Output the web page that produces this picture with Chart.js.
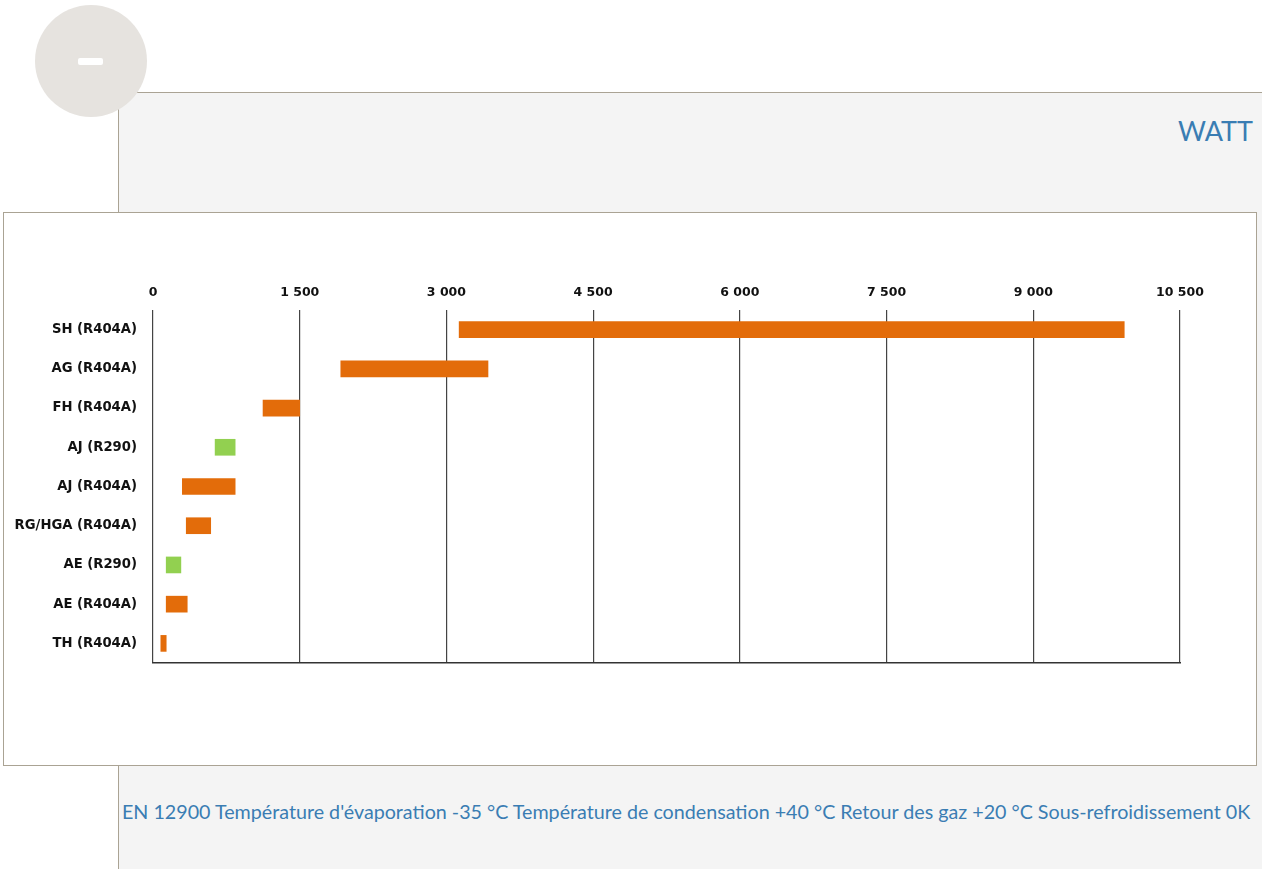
<!DOCTYPE html>
<html>
<head>
<meta charset="utf-8">
<script src="https://cdn.jsdelivr.net/npm/chart.js@4.4.1/dist/chart.umd.min.js"></script>
<style>
  body { margin: 0; width: 1262px; height: 869px; overflow: hidden; background: #fff; position: relative; font-family: Lato, "Open Sans", sans-serif; }
  .panel { position: absolute; left: 118px; top: 92px; width: 1200px; height: 800px; background: #f4f4f4; border-left: 1px solid #aaa394; border-top: 1px solid #aaa394; }
  .circle { position: absolute; left: 35px; top: 5px; width: 112px; height: 112px; border-radius: 50%; background: #e6e3df; }
  .minus { position: absolute; left: 78px; top: 58px; width: 25px; height: 7px; border-radius: 2px; background: #fff; }
  .unit { position: absolute; right: 9px; top: 114px; font-size: 27px; color: #3a7db3; }
  .box { position: absolute; left: 3px; top: 212px; width: 1252px; height: 552px; background: #fff; border: 1px solid #aaa394; }
  .note { position: absolute; left: 122px; top: 800px; font-size: 19.7px; color: #3a7db3; white-space: nowrap; }
</style>
</head>
<body>
<div class="panel"></div>
<div class="circle"></div>
<div class="minus"></div>
<div class="unit">WATT</div>
<div class="box"><canvas id="myChart" width="1252" height="552"></canvas></div>
<div class="note">EN 12900 Température d'évaporation -35 °C Température de condensation +40 °C Retour des gaz +20 °C Sous-refroidissement 0K</div>
<script>
// data
let labels = ['SH (R404A)', 'AG (R404A)', 'FH (R404A)', 'AJ (R290)', 'AJ (R404A)', 'RG/HGA (R404A)', 'AE (R290)', 'AE (R404A)', 'TH (R404A)'];
let minWatt = [3130, 1920, 1125, 635, 300, 340, 135, 135, 80];
let maxWatt = [9930, 3425, 1500, 840, 840, 590, 285, 350, 135];
let gas = ['R404A', 'R404A', 'R404A', 'R290', 'R404A', 'R404A', 'R290', 'R404A', 'R404A'];
let ticksX = [0, 1500, 3000, 4500, 6000, 7500, 9000, 10500];

let gasColor = { R404A: '#e36c0a', R290: '#92d050' };

let ranges = minWatt.map((v, i) => [v, maxWatt[i]]);
let colors = gas.map(g => gasColor[g]);

let ctx = document.getElementById('myChart').getContext('2d');

let fmt = v => String(v).replace(/\B(?=(\d{3})+(?!\d))/g, ' ');
let tickFont = { family: '"DejaVu Sans", sans-serif', size: 12.5, weight: 'bold' };
let catFont = { family: '"DejaVu Sans", sans-serif', size: 13.2, weight: 'bold' };

let chart = new Chart(ctx, {
  type: 'bar',
  data: {
    labels: labels,
    datasets: [{
      data: ranges,
      backgroundColor: colors,
      barThickness: 16,
      borderSkipped: false
    }]
  },
  options: {
    indexAxis: 'y',
    responsive: false,
    animation: false,
    layout: { padding: { left: 0, right: 76, top: 0, bottom: 102 } },
    plugins: { legend: { display: false }, tooltip: { enabled: false } },
    scales: {
      x: {
        position: 'top',
        min: 0,
        max: 10500,
        afterBuildTicks: s => { s.ticks = ticksX.map(v => ({ value: v })); },
        afterFit: s => { s.height = 97; },
        ticks: { font: tickFont, color: '#111', padding: 10, callback: v => fmt(v) },
        grid: { color: '#444', lineWidth: 1.2, drawTicks: false },
        border: { display: false }
      },
      x2: {
        type: 'linear',
        position: 'bottom',
        min: 0,
        max: 10500,
        afterFit: s => { s.height = 0; },
        ticks: { display: false },
        grid: { display: false, drawTicks: false },
        border: { display: true, color: '#333', width: 1.5 }
      },
      y: {
        afterFit: s => { s.width = 149; },
        ticks: { font: catFont, color: '#111', padding: 16 },
        grid: { display: false, drawTicks: false },
        border: { display: false }
      }
    }
  }
});
</script>
</body>
</html>
